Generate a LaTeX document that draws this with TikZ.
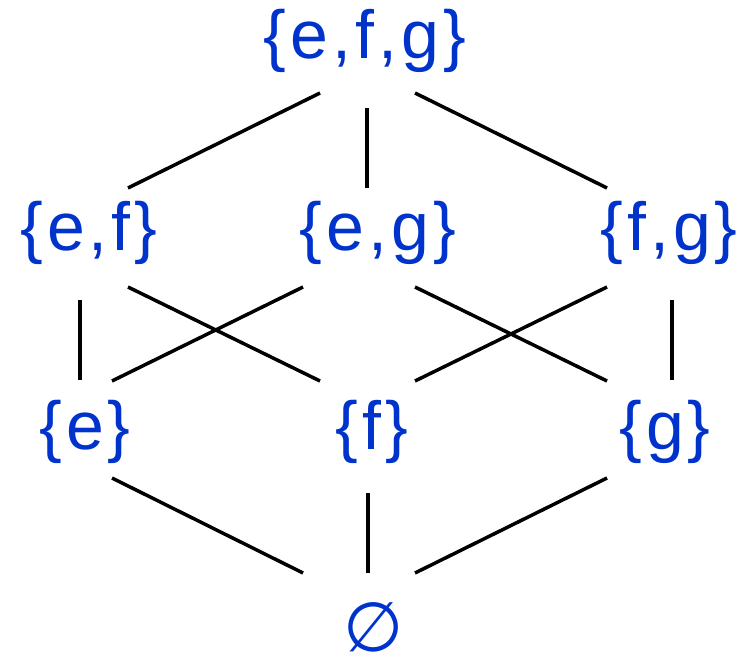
\documentclass[tikz,border=0pt]{standalone}
\usepackage{fontspec}
\setmainfont{Liberation Sans}[LetterSpace=6]
\newfontfamily\dejavu{DejaVu Sans}
\usetikzlibrary{calc}
\definecolor{setblue}{HTML}{0033CC}
\begin{document}
\begin{tikzpicture}[x=1pt,y=-1pt,
  lbl/.style={text=setblue, font=\fontsize{68}{68}\selectfont, inner sep=0pt, anchor=base},
  emptylbl/.style={text=setblue, font=\dejavu\fontsize{69}{69}\selectfont, inner sep=0pt},
  edge/.style={line width=3.5pt, black}]
\useasboundingbox (0,0) rectangle (751,658);
\node[lbl] (efg) at (365,59) {\{e,f,g\}};
\node[lbl] (ef) at (89,250) {\{e,f\}};
\node[lbl] (eg) at (378,250) {\{e,g\}};
\node[lbl] (fg) at (669,250) {\{f,g\}};
\node[lbl] (e) at (85,449) {\{e\}};
\node[lbl] (f) at (372,449) {\{f\}};
\node[lbl] (g) at (665,449) {\{g\}};
\node[emptylbl] (empty) at (374,627) {∅};
\draw[edge] ($(efg.base)+(-45,34)$) -- ($(ef.base)+(39,-62)$);
\draw[edge] ($(efg.base)+(2,49)$) -- ($(eg.base)+(-11,-62)$);
\draw[edge] ($(efg.base)+(50,34)$) -- ($(fg.base)+(-62,-62)$);
\draw[edge] ($(ef.base)+(-9,50)$) -- ($(e.base)+(-5,-69)$);
\draw[edge] ($(ef.base)+(39,37)$) -- ($(f.base)+(-52,-68)$);
\draw[edge] ($(eg.base)+(-75,37)$) -- ($(e.base)+(27,-68)$);
\draw[edge] ($(eg.base)+(37,37)$) -- ($(g.base)+(-58,-68)$);
\draw[edge] ($(fg.base)+(-62,37)$) -- ($(f.base)+(43,-68)$);
\draw[edge] ($(fg.base)+(3,50)$) -- ($(g.base)+(7,-69)$);
\draw[edge] ($(e.base)+(27,29)$) -- ($(empty)+(-71,-54)$);
\draw[edge] ($(f.base)+(-4,44)$) -- ($(empty)+(-6,-54)$);
\draw[edge] ($(g.base)+(-58,29)$) -- ($(empty)+(41,-54)$);
\end{tikzpicture}
\end{document}
